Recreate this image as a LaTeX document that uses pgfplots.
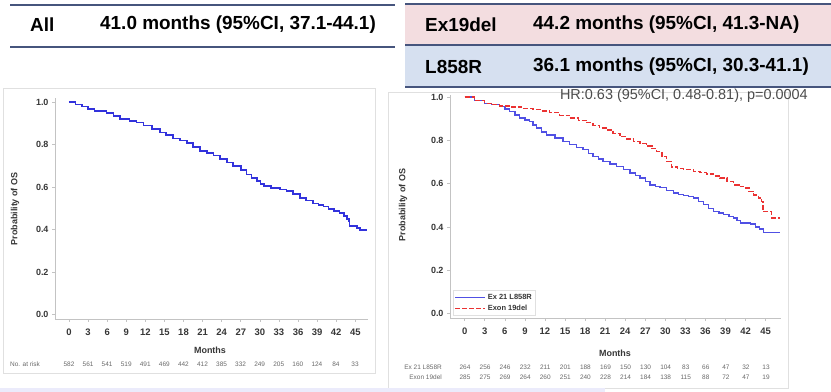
\documentclass[border=0pt]{standalone}
\usepackage{pgfplots}
\pgfplotsset{compat=1.18}
\usepackage{fontspec}
\setmainfont{Liberation Sans}
\definecolor{hdrline}{RGB}{70,85,125}
\definecolor{pinkband}{RGB}{243,221,224}
\definecolor{blueband}{RGB}{214,224,240}
\definecolor{kmblue}{RGB}{50,50,220}
\definecolor{kmbluel}{RGB}{80,80,228}
\definecolor{kmred}{RGB}{235,50,50}
\definecolor{tickgray}{RGB}{55,55,55}
\definecolor{riskgray}{RGB}{105,105,105}
\definecolor{axgray}{RGB}{195,195,195}

\pgfplotstableread{
x y
0 1.0
1 0.99
2 0.98
3 0.969
4 0.96
5.9 0.95
7 0.935
8 0.92
9.5 0.912
10.6 0.905
11.7 0.89
13 0.875
14.3 0.858
15.3 0.845
16.4 0.83
17.5 0.82
18.5 0.808
19.5 0.79
20.6 0.772
21.7 0.76
22.7 0.75
23.7 0.733
24.8 0.716
25.8 0.70
27 0.68
27.9 0.66
28.7 0.645
29.5 0.63
30.1 0.615
30.6 0.606
31.8 0.598
33.2 0.59
34.2 0.583
35.2 0.568
36.3 0.55
37.3 0.537
38.4 0.524
39.2 0.515
40 0.509
40.8 0.497
41.6 0.488
42.5 0.478
43.2 0.465
43.7 0.452
44 0.44
44.1 0.417
45.3 0.409
45.7 0.40
46.8 0.40
}\alltable

\pgfplotstableread{
x y
0 1.0
1.5 0.985
3 0.972
4 0.965
5.2 0.957
6 0.945
6.7 0.934
7.5 0.918
8.2 0.903
9 0.895
9.7 0.888
10.2 0.872
10.7 0.857
11.5 0.84
12.2 0.826
13.5 0.812
14.7 0.795
15.7 0.78
16.7 0.768
17.7 0.757
18.5 0.74
19.2 0.726
20 0.714
20.7 0.703
21.7 0.692
22.7 0.68
23.7 0.665
24.7 0.649
25.5 0.637
26.2 0.626
27 0.61
27.7 0.595
28.5 0.588
29.2 0.583
30.2 0.57
31.2 0.557
32 0.55
32.7 0.545
33.5 0.54
34.2 0.534
35 0.518
35.7 0.503
36.5 0.487
37.2 0.472
38 0.465
38.7 0.457
39.5 0.45
40.2 0.442
40.7 0.43
41.2 0.418
42.7 0.414
43.5 0.40
44.1 0.391
44.7 0.375
47.1 0.375
}\lrtable

\pgfplotstableread{
x y
0 1.0
1.5 0.985
3 0.972
4 0.965
5.2 0.96
6.7 0.954
8.5 0.948
10.2 0.942
11.5 0.936
12.7 0.929
14.2 0.916
15.7 0.903
17 0.893
18.2 0.883
19.2 0.87
20.2 0.857
21.2 0.849
22.2 0.833
23.2 0.818
24.2 0.806
25.2 0.795
26.2 0.785
27.2 0.775
28 0.762
28.7 0.749
29.5 0.726
30.2 0.703
30.9 0.677
31.8 0.671
32.7 0.665
34.2 0.657
35.2 0.651
36.2 0.645
37.2 0.636
38.2 0.626
39.2 0.61
40.2 0.595
41 0.588
41.7 0.58
42.5 0.565
43.2 0.549
43.9 0.534
44.4 0.518
44.6 0.472
45.7 0.472
45.9 0.442
47.1 0.442
}\extable

\pgfplotsset{
  kmaxis/.style={
    scale only axis,
    axis x line*=bottom, axis y line*=left,
    axis line style={axgray, line width=0.6bp, -},
    tick style={axgray, line width=0.6bp},
    tick align=outside,
    major tick length=3bp,
    xtick={0,3,...,45},
    ytick={0,0.2,...,1.0},
    yticklabel style={/pgf/number format/.cd, fixed, fixed zerofill, precision=1, assume math mode=true},
    xticklabel style={/pgf/number format/assume math mode=true},
    tick label style={font=\fontsize{9}{10}\selectfont\bfseries, text=tickgray},
    xticklabel style={yshift=-3bp, font=\fontsize{9.5}{10}\selectfont\bfseries},
    clip=false,
  }
}

\begin{document}
\begin{tikzpicture}
\useasboundingbox (0bp,0bp) rectangle (831bp,392bp);
\begin{scope}[x=1bp,y=1bp]
\fill[white] (0,0) rectangle (831,392);

% header right bands
\fill[pinkband] (405,347) rectangle (831,388);
\fill[blueband] (405,305) rectangle (831,347);
\draw[hdrline, line width=2bp] (405,388) -- (831,388);
\draw[hdrline, line width=2bp] (405,347) -- (831,347);
\draw[hdrline, line width=2bp] (405,305) -- (831,305);
% header left lines
\draw[hdrline, line width=2bp] (10,387) -- (395,387);
\draw[hdrline, line width=2bp] (10,345) -- (395,345);

\begin{scope}[font=\fontsize{19}{20}\selectfont\bfseries]
\node[anchor=west, inner sep=0] at (30,367) {All};
\node[anchor=west, inner sep=0] at (100,367) {41.0 months (95\%CI, 37.1-44.1)};
\node[anchor=west, inner sep=0] at (425,367) {Ex19del};
\node[anchor=west, inner sep=0] at (533,367) {44.2 months (95\%CI, 41.3-NA)};
\node[anchor=west, inner sep=0] at (425,325) {L858R};
\node[anchor=west, inner sep=0] at (533,325) {36.1 months (95\%CI, 30.3-41.1)};
\end{scope}

% panels
\draw[black!12, line width=0.8bp] (3,19) rectangle (375,304);
\draw[black!12, line width=0.8bp] (388,4) rectangle (788,300);
\fill[black!20!blue!8!white] (0,0) rectangle (605,4);
\end{scope}

% left axis
\begin{axis}[kmaxis, at={(55bp,73bp)}, anchor=south west,
  width=313bp, height=221bp,
  xmin=-2.2, xmax=47.0, ymin=-0.02, ymax=1.02]
\addplot[const plot, color=kmblue, line width=1.7bp] table[x=x,y=y] {\alltable};
\end{axis}

% right axis
\begin{axis}[kmaxis, at={(450bp,74bp)}, anchor=south west,
  width=331bp, height=223bp,
  xmin=-2.2, xmax=47.3, ymin=-0.02, ymax=1.01,
  legend cell align=left,
  legend style={at={(0.008,0.012)}, anchor=south west, draw=black!12, fill=none,
     font=\fontsize{7.5}{8}\selectfont\bfseries\color{tickgray}, row sep=0bp, inner sep=1.5bp},
  legend image code/.code={\draw[#1] (0bp,0bp) -- (30bp,0bp);}]
\addplot[const plot, color=kmbluel, line width=1.4bp, forget plot] table[x=x,y=y] {\lrtable};
\addplot[const plot, color=kmred, line width=1.4bp, dash pattern=on 5bp off 2bp, forget plot] table[x=x,y=y] {\extable};
\addlegendimage{draw=kmbluel, line width=1.5bp}
\addlegendentry{Ex 21 L858R}
\addlegendimage{draw=kmred, line width=1.2bp, dash pattern=on 5bp off 2bp}
\addlegendentry{Exon 19del}
\end{axis}

\begin{scope}[x=1bp,y=1bp]
% HR text
\node[anchor=east, inner sep=0, font=\fontsize{14.5}{15}\selectfont, text=black!70] at (808,296) {HR:0.63 (95\%CI, 0.48-0.81), p=0.0004};

% axis titles
\begin{scope}[font=\fontsize{9}{10}\selectfont\bfseries, text=tickgray]
\node at (210,42) {Months};
\node at (615,39) {Months};
\node[rotate=90] at (15,183) {Probability of OS};
\node[rotate=90] at (403,187) {Probability of OS};
\end{scope}

% numbers at risk
\begin{scope}[font=\fontsize{6.5}{7}\selectfont, text=riskgray]
\node[anchor=west, inner sep=0] at (10,28) {No. at risk};
\foreach \v [count=\i from 0] in {582,561,541,519,491,469,442,412,385,332,249,205,160,124,84,33}
  \node[inner sep=0] at ({69+19.07*\i},28) {\v};
\node[anchor=east, inner sep=0] at (442,25) {Ex 21 L858R};
\node[anchor=east, inner sep=0] at (442,15) {Exon 19del};
\foreach \v [count=\i from 0] in {264,256,246,232,211,201,188,169,150,130,104,83,66,47,32,13}
  \node[inner sep=0] at ({465+20.07*\i},25) {\v};
\foreach \v [count=\i from 0] in {285,275,269,264,260,251,240,228,214,184,138,115,88,72,47,19}
  \node[inner sep=0] at ({465+20.07*\i},15) {\v};
\end{scope}
\end{scope}
\end{tikzpicture}
\end{document}
